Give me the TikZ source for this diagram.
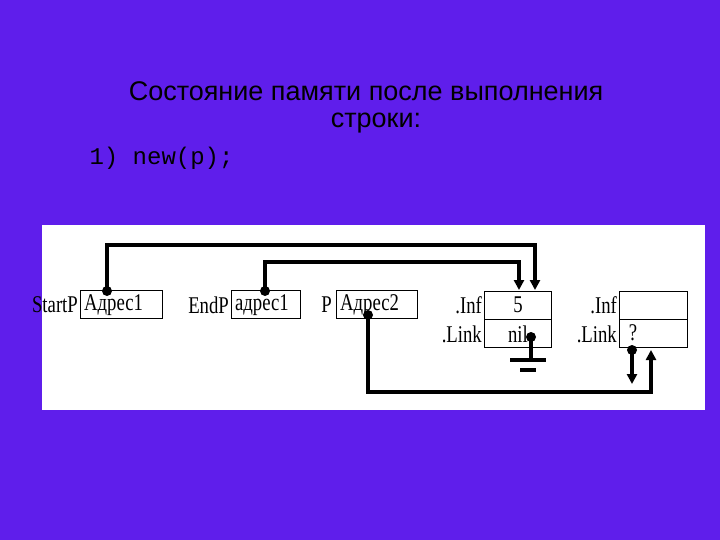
\documentclass[tikz,border=0pt]{standalone}
\usepackage{fontspec}
\setmainfont{Liberation Serif}
\setsansfont{Liberation Sans}
\setmonofont{Liberation Mono}
\usetikzlibrary{arrows.meta}
\definecolor{bg}{RGB}{95,30,235}
\begin{document}
\begin{tikzpicture}[x=1pt,y=-1pt,
  cell/.style={draw,line width=0.8pt,minimum height=28pt,inner sep=0pt},
  lbl/.style={font=\fontsize{24}{24}\selectfont,inner sep=0pt,xscale=0.78,transform shape},
  wire/.style={line width=3.2pt},
  arr/.style={wire,-{Triangle[length=10pt,width=10pt]}},
  dot/.style={circle,fill,inner sep=0pt,minimum size=10pt}]
\fill[bg] (0,0) rectangle (720,540);
\useasboundingbox (0,0) rectangle (720,540);
\fill[white] (42,225) rectangle (705,410);
\node[font=\sffamily\fontsize{27}{27}\selectfont,align=center] (title) at (366,107) {Состояние памяти после выполнения\\ \hspace*{20pt}строки:};
\node[font=\ttfamily\fontsize{24}{24}\selectfont,anchor=west] (code) at (86,158) {1) new(p);};
% cells
\node[cell,minimum width=82pt,anchor=north west] (s) at (80,290) {};
\node[lbl,anchor=east] at (78,305) {StartP};
\node[lbl,anchor=west] at (84,305) {Адрес1};
\node[cell,minimum width=69pt,anchor=north west] (e) at (231,290) {};
\node[lbl,anchor=east] at (229,305) {EndP};
\node[lbl,anchor=west] at (235,305) {адрес1};
\node[cell,minimum width=81pt,anchor=north west] (p) at (336,290) {};
\node[lbl,anchor=east] at (332,305) {P};
\node[lbl,anchor=west] at (340,305) {Адрес2};
\node[cell,minimum width=67pt,anchor=north west] (a1) at (484,291) {};
\node[cell,minimum width=67pt,anchor=north west] (a2) at (484,319) {};
\node[lbl] at (518,305) {5};
\node[lbl] at (518,334) {nil};
\node[lbl,anchor=east] at (482,305) {.Inf};
\node[lbl,anchor=east] at (482,334) {.Link};
\node[cell,minimum width=68pt,anchor=north west] (b1) at (619,291) {};
\node[cell,minimum width=68pt,anchor=north west] (b2) at (619,319) {};
\node[lbl,anchor=east] at (617,305) {.Inf};
\node[lbl,anchor=east] at (617,334) {.Link};
\node[lbl] (q) at (633,333) {?};
% dots
\node[dot] (d1) at (107,291) {};
\node[dot] (d2) at (265,291) {};
\node[dot] (d3) at (368,315) {};
\node[dot] (d4) at (531,337) {};
\node[dot] (d5) at (632,350) {};
\coordinate (t1) at (535,290);
\coordinate (t2) at (519,290);
\coordinate (t3) at (651,350);
\coordinate (t5) at (632,384);
\coordinate (g) at (531,360);
\draw[arr] (d1.center) |- (535,245) -- (t1);
\draw[arr] (d2.center) |- (519,262) -- (t2);
\draw[arr] (d3.center) |- (651,392) -- (t3);
\draw[arr] (d5.center) -- (t5);
\draw[wire] (d4.center) -- (g);
\draw[wire] (510,360) -- (546,360);
\draw[line width=3.5pt] (520,370) -- (536,370);
\end{tikzpicture}
\end{document}
